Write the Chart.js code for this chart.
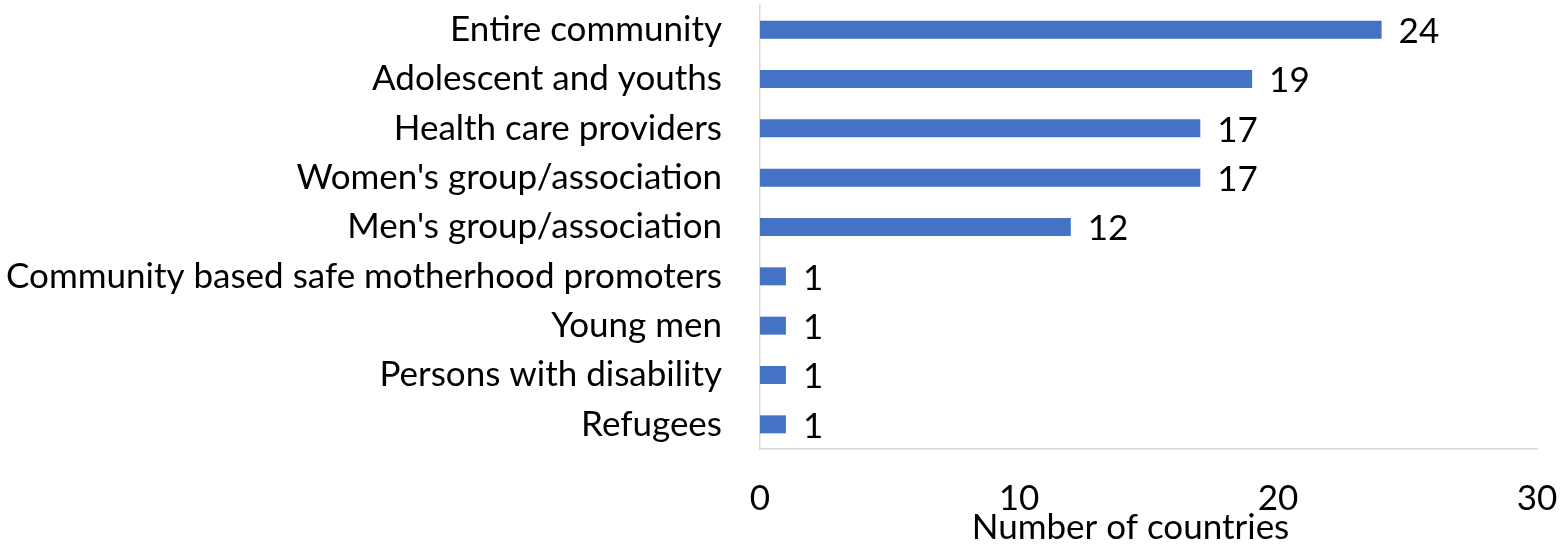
<!DOCTYPE html>
<html>
<head>
<meta charset="utf-8">
<script src="https://cdn.jsdelivr.net/npm/chart.js@4"></script>
<style>
  html, body { margin: 0; padding: 0; background: #fff; }
  #wrap { width: 1562px; height: 544px; position: relative; }
</style>
</head>
<body>
<div id="wrap"><canvas id="c" width="1562" height="544"></canvas></div>
<script>
const categories = [
  "Entire community",
  "Adolescent and youths",
  "Health care providers",
  "Women's group/association",
  "Men's group/association",
  "Community based safe motherhood promoters",
  "Young men",
  "Persons with disability",
  "Refugees"
];
const countries = [24, 19, 17, 17, 12, 1, 1, 1, 1];
const xTicks = [0, 10, 20, 30];
const xTitle = "Number of countries";

const FONT = "Lato";
const FSIZE = 35;

const valueLabels = {
  id: 'valueLabels',
  afterDatasetsDraw(chart) {
    const ctx = chart.ctx;
    const meta = chart.getDatasetMeta(0);
    ctx.save();
    ctx.font = FSIZE + "px " + FONT;
    ctx.fillStyle = "#000";
    ctx.textAlign = "left";
    ctx.textBaseline = "middle";
    meta.data.forEach((bar, i) => {
      ctx.fillText(String(countries[i]), bar.x + 17, bar.y + 2);
    });
    // axis title, centred slightly left of the plot centre as in the source
    const a = chart.chartArea;
    ctx.textAlign = "center";
    ctx.fillText(xTitle, (a.left + a.right) / 2 - 18, chart.height - 16);
    ctx.restore();
  }
};

new Chart(document.getElementById('c'), {
  type: 'bar',
  data: {
    labels: categories,
    datasets: [{
      data: countries,
      backgroundColor: '#4472C4',
      borderWidth: 0,
      categoryPercentage: 1,
      barPercentage: 0.365
    }]
  },
  options: {
    indexAxis: 'y',
    responsive: false,
    animation: false,
    devicePixelRatio: 1,
    layout: { padding: { top: 5, right: 25, left: 0, bottom: 0 } },
    plugins: { legend: { display: false }, tooltip: { enabled: false } },
    scales: {
      x: {
        min: 0, max: 30,
        afterBuildTicks(scale) { scale.ticks = xTicks.map(v => ({ value: v })); },
        afterFit(scale) { scale.height = 95; scale.paddingLeft = 0; scale.paddingRight = 0; },
        grid: { display: false, drawTicks: false },
        border: { display: true, color: '#d9d9d9', width: 1.5 },
        ticks: { color: '#000', font: { family: FONT, size: FSIZE }, padding: 29, maxRotation: 0 },
        title: { display: false }
      },
      y: {
        afterFit(scale) { scale.width = 760; scale.paddingTop = 0; scale.paddingBottom = 0; },
        grid: { display: false, drawTicks: false },
        border: { display: true, color: '#d9d9d9', width: 1.5 },
        ticks: { color: '#000', font: { family: FONT, size: FSIZE }, padding: 38, autoSkip: false }
      }
    }
  },
  plugins: [valueLabels]
});
</script>
</body>
</html>
